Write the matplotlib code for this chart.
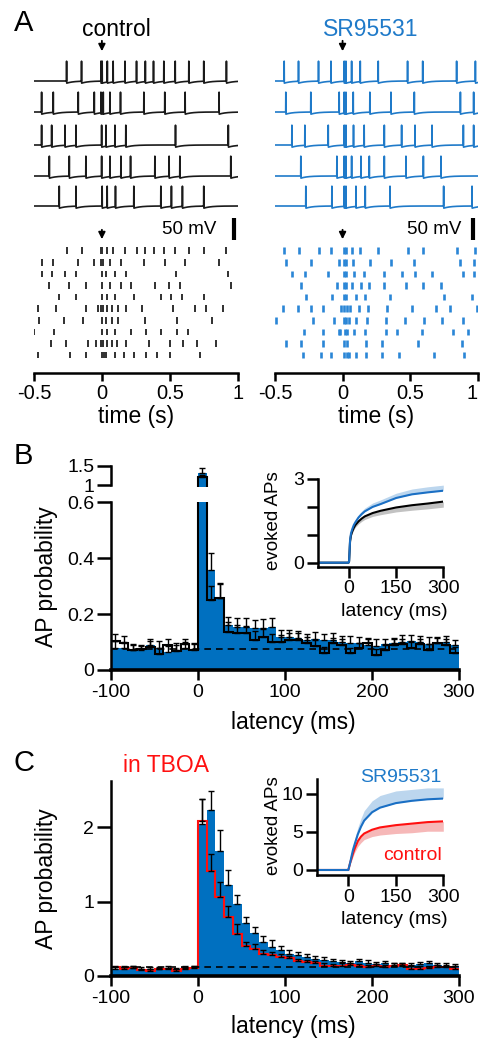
import numpy as np
import matplotlib
matplotlib.use('Agg')
import matplotlib.pyplot as plt

plt.rcParams['font.family'] = ['Liberation Sans', 'DejaVu Sans']
plt.rcParams['axes.unicode_minus'] = False

# ---------------- data ----------------
# spike times (s) of 10 trials, first 5 are also shown as traces
ctrl_spikes = [
    [-0.26, -0.15, -0.007, 0.002, 0.04, 0.083, 0.17, 0.255, 0.32, 0.38, 0.456, 0.54, 0.64, 0.75, 0.917],
    [-0.444, -0.358, -0.174, -0.056, -0.007, 0.01, 0.059, 0.137, 0.309, 0.463, 0.613, 0.863],
    [-0.444, -0.37, -0.272, -0.191, -0.002, 0.03, 0.096, 0.176, 0.542, 0.931],
    [-0.387, -0.24, -0.118, -0.002, 0.059, 0.14, 0.211, 0.39, 0.495, 0.574, 0.949],
    [-0.314, -0.191, 0.002, 0.039, 0.1, 0.235, 0.434, 0.512, 0.593, 0.75],
    [-0.468, -0.338, -0.12, -0.032, -0.007, 0.01, 0.039, 0.076, 0.12, 0.181, 0.292, 0.52, 0.684, 0.77, 0.892],
    [-0.463, -0.277, -0.142, 0.002, 0.029, 0.071, 0.115, 0.316, 0.554, 0.811],
    [-0.498, -0.35, 0.002, 0.034, 0.096, 0.213, 0.328, 0.434, 0.556, 0.635],
    [-0.375, -0.267, -0.105, -0.047, -0.007, 0.01, 0.039, 0.076, 0.113, 0.181, 0.346, 0.5, 0.598, 0.701, 0.838],
    [-0.473, -0.235, -0.118, -0.002, 0.015, 0.029, 0.096, 0.162, 0.235, 0.328, 0.407, 0.5, 0.721],
]
sr_spikes = [
    [-0.432, -0.326, -0.178, -0.086, 0.012, 0.025, 0.067, 0.131, 0.264, 0.481, 0.593, 0.844, 0.983],
    [-0.42, -0.235, -0.025, 0.012, 0.025, 0.079, 0.202, 0.358, 0.531, 0.872, 0.97],
    [-0.375, -0.279, -0.106, 0.012, 0.025, 0.081, 0.16, 0.309, 0.437, 0.536, 0.662, 0.894, 0.97],
    [-0.309, -0.042, 0.012, 0.025, 0.067, 0.136, 0.198, 0.309, 0.469, 0.598, 0.728],
    [-0.272, -0.079, 0.012, 0.025, 0.099, 0.168, 0.351, 0.748, 0.958],
    [-0.44, -0.328, -0.23, -0.148, -0.012, 0.007, 0.03, 0.057, 0.119, 0.185, 0.328, 0.511, 0.691, 0.795, 0.993],
    [-0.489, -0.222, -0.062, 0.012, 0.025, 0.049, 0.099, 0.18, 0.321, 0.462, 0.605, 0.733, 0.889],
    [-0.289, -0.148, -0.03, -0.017, 0.017, 0.03, 0.081, 0.165, 0.321, 0.4, 0.588, 0.82, 0.931],
    [-0.42, -0.309, -0.143, 0.012, 0.03, 0.173, 0.291, 0.56, 0.884],
    [-0.296, -0.156, -0.086, 0.012, 0.03, 0.049, 0.099, 0.173, 0.289, 0.42, 0.679, 0.901],
]

# PSTH, 10 ms bins from -100 to 300 ms
bin_edges = np.arange(-100, 301, 10)

sr_B = [0.080, 0.080, 0.070, 0.072, 0.090, 0.080, 0.065, 0.070, 0.080, 0.075,
        1.32, 0.358, 0.256, 0.161, 0.155, 0.155, 0.150, 0.149, 0.155, 0.117,
        0.118, 0.113, 0.108, 0.110, 0.108, 0.108, 0.100, 0.095, 0.098, 0.090,
        0.085, 0.092, 0.095, 0.100, 0.105, 0.100, 0.092, 0.098, 0.100, 0.088]
ctrl_B = [0.105, 0.095, 0.072, 0.075, 0.082, 0.058, 0.090, 0.068, 0.092, 0.072,
          1.20, 0.250, 0.256, 0.137, 0.131, 0.131, 0.109, 0.117, 0.100, 0.100,
          0.107, 0.107, 0.098, 0.086, 0.062, 0.095, 0.090, 0.060, 0.078, 0.095,
          0.055, 0.070, 0.090, 0.092, 0.080, 0.092, 0.072, 0.095, 0.090, 0.062]
sem_sr_B = [0.025, 0.020, 0.020, 0.015, 0.020, 0.025, 0.020, 0.025, 0.020, 0.020,
            0.110, 0.060, 0.050, 0.030, 0.030, 0.030, 0.030, 0.035, 0.030, 0.025,
            0.025, 0.025, 0.020, 0.025, 0.020, 0.025, 0.020, 0.025, 0.020, 0.020,
            0.025, 0.020, 0.020, 0.025, 0.020, 0.020, 0.025, 0.020, 0.020, 0.020]
sem_ctrl_B = [0.025, 0.025, 0.020, 0.015, 0.020, 0.020, 0.020, 0.020, 0.020, 0.020,
              0.070, 0.050, 0.055, 0.035, 0.030, 0.025, 0.030, 0.030, 0.030, 0.025,
              0.025, 0.025, 0.020, 0.020, 0.020, 0.020, 0.020, 0.020, 0.020, 0.020,
              0.020, 0.020, 0.020, 0.020, 0.020, 0.020, 0.020, 0.020, 0.020, 0.020]
base_B = 0.075

sr_C = [0.10, 0.12, 0.11, 0.10, 0.10, 0.10, 0.11, 0.09, 0.12, 0.12,
        2.05, 2.23, 1.69, 1.22, 0.97, 0.71, 0.58, 0.46, 0.39, 0.35,
        0.30, 0.28, 0.26, 0.23, 0.21, 0.20, 0.19, 0.17, 0.20, 0.18,
        0.16, 0.17, 0.15, 0.14, 0.15, 0.16, 0.17, 0.15, 0.14, 0.13]
ctrl_C = [0.12, 0.10, 0.11, 0.08, 0.07, 0.09, 0.09, 0.07, 0.09, 0.11,
          2.09, 1.42, 1.06, 0.80, 0.57, 0.40, 0.37, 0.30, 0.28, 0.26,
          0.24, 0.20, 0.19, 0.17, 0.14, 0.13, 0.14, 0.15, 0.13, 0.12,
          0.13, 0.12, 0.14, 0.15, 0.10, 0.10, 0.11, 0.12, 0.12, 0.10]
sem_sr_C = [0.02, 0.02, 0.02, 0.02, 0.02, 0.02, 0.02, 0.02, 0.02, 0.02,
            0.33, 0.26, 0.28, 0.21, 0.12, 0.09, 0.08, 0.08, 0.10, 0.05,
            0.05, 0.04, 0.04, 0.04, 0.04, 0.03, 0.03, 0.03, 0.03, 0.03,
            0.03, 0.03, 0.03, 0.03, 0.03, 0.03, 0.03, 0.03, 0.03, 0.03]
sem_ctrl_C = [0.02, 0.02, 0.02, 0.02, 0.02, 0.02, 0.02, 0.02, 0.02, 0.02,
              0.30, 0.22, 0.20, 0.14, 0.13, 0.06, 0.06, 0.05, 0.04, 0.04,
              0.03, 0.03, 0.03, 0.03, 0.03, 0.03, 0.03, 0.03, 0.03, 0.03,
              0.03, 0.03, 0.03, 0.03, 0.03, 0.03, 0.03, 0.03, 0.03, 0.03]
base_C = 0.12

# cumulative evoked APs (insets)
inset_lat = [-100, -50, -2, 0, 3, 6, 10, 15, 20, 30, 40, 50, 75, 100, 150, 200, 250, 300]
sr_cum_B = [0, 0, 0, 0.05, 0.80, 1.05, 1.20, 1.35, 1.45, 1.62, 1.74, 1.84, 2.00, 2.10, 2.32, 2.45, 2.52, 2.58]
sr_cum_B_sem = [0, 0, 0, 0, 0.05, 0.06, 0.07, 0.08, 0.09, 0.10, 0.11, 0.12, 0.14, 0.15, 0.17, 0.19, 0.20, 0.20]
ctrl_cum_B = [0, 0, 0, 0.05, 0.75, 0.98, 1.12, 1.25, 1.35, 1.48, 1.58, 1.66, 1.78, 1.86, 1.98, 2.06, 2.12, 2.19]
ctrl_cum_B_sem = [0, 0, 0, 0, 0.04, 0.05, 0.06, 0.07, 0.08, 0.09, 0.10, 0.11, 0.12, 0.14, 0.16, 0.18, 0.19, 0.20]

sr_cum_C = [0, 0, 0, 0, 0.5, 1.0, 1.8, 2.7, 3.4, 4.7, 5.7, 6.5, 7.6, 8.2, 8.8, 9.1, 9.3, 9.4]
sr_cum_C_sem = [0, 0, 0, 0, 0.1, 0.2, 0.3, 0.5, 0.7, 0.9, 1.1, 1.3, 1.5, 1.6, 1.6, 1.5, 1.5, 1.4]
ctrl_cum_C = [0, 0, 0, 0, 0.5, 1.0, 1.5, 2.2, 2.8, 3.8, 4.4, 4.8, 5.3, 5.6, 5.9, 6.1, 6.3, 6.4]
ctrl_cum_C_sem = [0, 0, 0, 0, 0.1, 0.2, 0.3, 0.4, 0.5, 0.7, 0.8, 0.8, 0.9, 1.0, 1.1, 1.2, 1.2, 1.3]

# ---------------- style ----------------
BLUE = '#0070c0'
BLUE_LN = '#1f7ac9'
BLUE_BAND = '#bcd6ee'
GREY_BAND = '#c2c2c2'
RED = '#ff1010'
RED_BAND = '#f6b8b8'

W, H = 480, 1047
fig = plt.figure(figsize=(W / 100, H / 100), dpi=100)


def box(x0, y0, x1, y1):
    # pixel rectangle (top-left origin) -> figure fraction
    return [x0 / W, 1 - y1 / H, (x1 - x0) / W, (y1 - y0) / H]


def ftext(x, y, s, **kw):
    fig.text(x / W, 1 - y / H, s, ha=kw.pop('ha', 'center'), va=kw.pop('va', 'center'), **kw)


def make_trace(spikes, tt):
    # simple voltage trace built from spike times (mV relative to rest)
    sp = np.sort(spikes)
    k = np.searchsorted(sp, tt, side='right') - 1
    dt = np.where(k >= 0, tt - sp[np.clip(k, 0, None)], np.inf)
    v = -5.0 * np.exp(-dt / 0.05)
    for s in sp:
        v[np.argmin(np.abs(tt - s))] = 45.0
    return v


# ---------------- panel A ----------------
tt = np.arange(-0.5, 1.0005, 0.001)
trace_rows = [81, 112, 145, 176, 206]
raster_rows = [250.7 + 11.6 * j for j in range(10)]
mv_px = 0.44

colsA = [
    (34, 237.7, ctrl_spikes, '#1a1a1a', '#303030', 1.4, 'control', 'k', 0.11, 0.97, 0.846),
    (275, 477.7, sr_spikes, BLUE_LN, '#2a86d6', 1.9, 'SR95531', BLUE_LN, 0.21, 0.965, 0.876),
]
for x0, x1, spikes, tcol, rcol, rlw, title, title_col, title_x, bar_x, txt_x in colsA:
    ax = fig.add_axes(box(x0, 40, x1, 373.3))
    ax.set_xlim(-0.5, 1.0)
    ax.set_ylim(373.3, 40)
    for i in range(5):
        v = make_trace(spikes[i], tt)
        ax.plot(tt, trace_rows[i] - v * mv_px, color=tcol, lw=1.2)
    for j, row in enumerate(spikes):
        ax.vlines(row, raster_rows[j] - 3.3, raster_rows[j] + 3.3, color=rcol, lw=rlw)
    ax.annotate('', xy=(0, 54), xytext=(0, 38),
                arrowprops=dict(arrowstyle='-|>', color='k', lw=1.3, mutation_scale=10))
    ax.annotate('', xy=(0, 242), xytext=(0, 227),
                arrowprops=dict(arrowstyle='-|>', color='k', lw=1.3, mutation_scale=10))
    ax.plot([bar_x, bar_x], [218, 240], color='k', lw=3, solid_capstyle='butt', clip_on=False)
    ax.text(txt_x, 229, '50 mV', ha='right', va='center', fontsize=13.5)
    ax.text(title_x, 30, title, ha='center', va='center', fontsize=16.5, color=title_col)
    for s in ['left', 'top', 'right']:
        ax.spines[s].set_visible(False)
    ax.spines['bottom'].set_linewidth(1.8)
    ax.set_yticks([])
    ax.set_xticks([-0.5, 0, 0.5, 1])
    ax.set_xticklabels(['-0.5', '0', '0.5', '1'])
    ax.tick_params(axis='x', length=6, width=1.8, labelsize=14.5, pad=2)
    if x1 > 470:
        # keep the last label inside the figure edge
        ax.get_xticklabels()[-1].set_horizontalalignment('right')
    ax.patch.set_alpha(0)
    ftext((x0 + x1) / 2, 417, 'time (s)', fontsize=16.5)

ftext(24, 23, 'A', fontsize=21)


# ---------------- histograms ----------------
def draw_psth(ax, sr, ctrl, sem_sr, sem_ctrl, base, line_col):
    left = bin_edges[:-1]
    centers = left + 5
    ax.bar(left, sr, width=10, align='edge', color=BLUE, lw=0)
    ax.errorbar(centers, sr, yerr=[np.zeros(len(sr)), sem_sr], fmt='none',
                ecolor='k', elinewidth=1.0, capsize=2.2, capthick=1.0)
    ax.errorbar(centers, ctrl, yerr=[np.zeros(len(ctrl)), sem_ctrl], fmt='none',
                ecolor='k', elinewidth=1.0, capsize=2.2, capthick=1.0)
    ax.stairs(ctrl, bin_edges, color=line_col, lw=1.5, baseline=None)
    ax.plot([-100, 300], [base, base], color='k', lw=1.2, dashes=(4, 3))
    ax.set_xlim(-100, 300)


def style_main(ax):
    for s in ['top', 'right']:
        ax.spines[s].set_visible(False)
    ax.spines['left'].set_linewidth(1.8)
    ax.spines['bottom'].set_linewidth(2.6)
    ax.tick_params(axis='y', length=10, width=1.8, labelsize=14, pad=2)
    ax.tick_params(axis='x', length=7, width=1.8, labelsize=14, pad=3)
    ax.set_xticks([-100, 0, 100, 200, 300])
    ax.set_xticklabels(['-100', '0', '100', '200', '300'])
    ax.patch.set_alpha(0)


def style_inset(ax):
    for s in ['top', 'right']:
        ax.spines[s].set_visible(False)
    ax.spines['left'].set_linewidth(1.8)
    ax.spines['bottom'].set_linewidth(1.8)
    ax.tick_params(axis='both', length=8, width=1.8, labelsize=14, pad=2)
    ax.set_xlim(-100, 300)
    ax.set_xticks([0, 150, 300])
    ax.patch.set_alpha(0)


# panel B: broken y axis
axB = fig.add_axes(box(111, 502.3, 459, 670))
draw_psth(axB, sr_B, ctrl_B, sem_sr_B, sem_ctrl_B, base_B, 'k')
axB.set_ylim(0, 0.6)
axB.set_yticks([0, 0.2, 0.4, 0.6])
axB.set_yticklabels(['0', '0.2', '0.4', '0.6'])
style_main(axB)

axB2 = fig.add_axes(box(111, 465.7, 459, 487))
draw_psth(axB2, sr_B, ctrl_B, sem_sr_B, sem_ctrl_B, base_B, 'k')
axB2.set_ylim(0.95, 1.5)
for s in ['top', 'right', 'bottom']:
    axB2.spines[s].set_visible(False)
axB2.spines['left'].set_bounds(1, 1.5)
axB2.spines['left'].set_linewidth(1.8)
axB2.set_yticks([1, 1.5])
axB2.set_yticklabels(['1', '1.5'])
axB2.set_xticks([])
axB2.tick_params(axis='y', length=10, width=1.8, labelsize=14, pad=2)
axB2.patch.set_alpha(0)

ftext(46, 577, 'AP probability', fontsize=16.5, rotation=90)
ftext(293, 722, 'latency (ms)', fontsize=16.5)
ftext(23, 456, 'B', fontsize=21)

# inset B
axBi = fig.add_axes(box(317.7, 479, 443.3, 566.6))
lo = np.array(ctrl_cum_B) - np.array(ctrl_cum_B_sem)
hi = np.array(sr_cum_B) + np.array(sr_cum_B_sem)
axBi.fill_between(inset_lat, lo, ctrl_cum_B, color=GREY_BAND, lw=0)
axBi.fill_between(inset_lat, sr_cum_B, hi, color=BLUE_BAND, lw=0)
axBi.plot(inset_lat, ctrl_cum_B, color='k', lw=1.5)
axBi.plot(inset_lat, sr_cum_B, color='#1a6fc4', lw=1.5)
axBi.set_ylim(-0.14, 3)
axBi.set_yticks([0, 1, 2, 3])
axBi.set_yticklabels(['0', '', '', '3'])
style_inset(axBi)
ftext(273, 521, 'evoked APs', fontsize=13.5, rotation=90)
ftext(394, 612, 'latency (ms)', fontsize=14)

# panel C
axC = fig.add_axes(box(111, 780.7, 459, 976))
draw_psth(axC, sr_C, ctrl_C, sem_sr_C, sem_ctrl_C, base_C, RED)
axC.set_ylim(0, 2.63)
axC.set_yticks([0, 1, 2])
style_main(axC)
ftext(47, 879, 'AP probability', fontsize=16.5, rotation=90)
ftext(293, 1027, 'latency (ms)', fontsize=16.5)
ftext(24, 763, 'C', fontsize=21)
ftext(166, 765, 'in TBOA', fontsize=16.5, color=RED)

axCi = fig.add_axes(box(316.7, 778.8, 443.3, 875))
lo = np.array(ctrl_cum_C) - np.array(ctrl_cum_C_sem)
hi = np.array(sr_cum_C) + np.array(sr_cum_C_sem)
axCi.fill_between(inset_lat, lo, ctrl_cum_C, color=RED_BAND, lw=0)
axCi.fill_between(inset_lat, sr_cum_C, hi, color=BLUE_BAND, lw=0)
axCi.plot(inset_lat, ctrl_cum_C, color=RED, lw=1.5)
axCi.plot(inset_lat, sr_cum_C, color='#1a6fc4', lw=1.5)
axCi.set_ylim(-0.66, 12)
axCi.set_yticks([0, 5, 10])
style_inset(axCi)
ftext(273, 826, 'evoked APs', fontsize=13.5, rotation=90)
ftext(394, 920, 'latency (ms)', fontsize=14)
ftext(401, 778, 'SR95531', fontsize=14, color=BLUE_LN)
ftext(412, 856, 'control', fontsize=14, color=RED)

fig.savefig('out.png', dpi=100)
